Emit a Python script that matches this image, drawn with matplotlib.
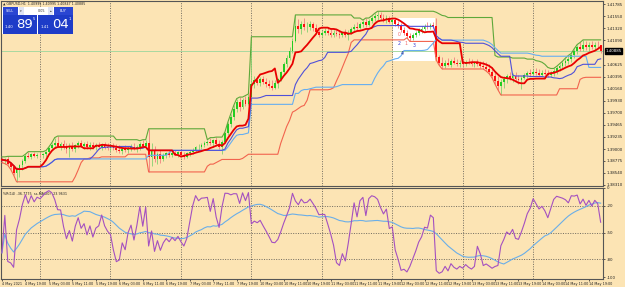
import matplotlib
matplotlib.use("Agg")
import matplotlib.pyplot as plt
import matplotlib.patches as mpatches
import matplotlib.transforms as mtransforms
import numpy as np
import pandas as pd

# GBPUSD H1, 4 May 2021 11:00 .. 14 May 2021 23:00
opens = [
    1.3880, 1.3877, 1.3881, 1.3872, 1.3865, 1.3854, 1.3863, 1.3869, 1.3877, 1.3886,
    1.3885, 1.3890, 1.3886, 1.3889, 1.3888, 1.3890, 1.3894, 1.3902, 1.3908, 1.3911,
    1.3906, 1.3909, 1.3903, 1.3900, 1.3904, 1.3900, 1.3907, 1.3911, 1.3906, 1.3909,
    1.3904, 1.3908, 1.3903, 1.3907, 1.3904, 1.3908, 1.3904, 1.3902, 1.3906, 1.3902,
    1.3899, 1.3897, 1.3900, 1.3898, 1.3902, 1.3904, 1.3900, 1.3904, 1.3909, 1.3906,
    1.3912, 1.3885, 1.3899, 1.3880, 1.3890, 1.3881, 1.3888, 1.3892, 1.3889, 1.3893,
    1.3890, 1.3894, 1.3889, 1.3885, 1.3892, 1.3894, 1.3899, 1.3903, 1.3904, 1.3908,
    1.3912, 1.3914, 1.3911, 1.3917, 1.3909, 1.3904, 1.3914, 1.3930, 1.3948, 1.3962,
    1.3978, 1.3990, 1.3981, 1.3994, 1.3987, 1.4000, 1.4025, 1.4032, 1.4028, 1.4034,
    1.4029, 1.4025, 1.4022, 1.4018, 1.4027, 1.4034, 1.4048, 1.4063, 1.4075, 1.4089,
    1.4108, 1.4137, 1.4131, 1.4140, 1.4134, 1.4135, 1.4140, 1.4133, 1.4126, 1.4120,
    1.4124, 1.4128, 1.4123, 1.4120, 1.4124, 1.4121, 1.4119, 1.4124, 1.4120, 1.4124,
    1.4131, 1.4135, 1.4133, 1.4140, 1.4144, 1.4139, 1.4147, 1.4152, 1.4156, 1.4158,
    1.4153, 1.4149, 1.4152, 1.4145, 1.4148, 1.4140, 1.4137, 1.4129, 1.4124, 1.4117,
    1.4114, 1.4119, 1.4124, 1.4129, 1.4131, 1.4135, 1.4134, 1.4139, 1.4137, 1.4077,
    1.4065, 1.4060, 1.4066, 1.4061, 1.4069, 1.4065, 1.4063, 1.4066, 1.4064, 1.4068,
    1.4065, 1.4063, 1.4066, 1.4063, 1.4060, 1.4057, 1.4054, 1.4049, 1.4041, 1.4031,
    1.4022, 1.4029, 1.4034, 1.4040, 1.4037, 1.4041, 1.4034, 1.4032, 1.4037, 1.4042,
    1.4046, 1.4045, 1.4048, 1.4046, 1.4043, 1.4047, 1.4045, 1.4042, 1.4046, 1.4050,
    1.4055, 1.4059, 1.4065, 1.4070, 1.4073, 1.4080, 1.4088, 1.4096, 1.4093, 1.4101,
    1.4096, 1.4100, 1.4096, 1.4101, 1.40995,
]
highs = [
    1.3885, 1.3883, 1.3886, 1.3876, 1.3869, 1.3866, 1.3872, 1.3880, 1.3890, 1.3895,
    1.3893, 1.3895, 1.3893, 1.3895, 1.3893, 1.3897, 1.3904, 1.3912, 1.3922, 1.3925,
    1.3914, 1.3917, 1.3912, 1.3911, 1.3914, 1.3909, 1.3916, 1.3918, 1.3914, 1.3916,
    1.3913, 1.3914, 1.3911, 1.3914, 1.3912, 1.3913, 1.3911, 1.3909, 1.3912, 1.3909,
    1.3907, 1.3904, 1.3907, 1.3906, 1.3909, 1.3911, 1.3908, 1.3914, 1.3918, 1.3917,
    1.3939, 1.3911, 1.3906, 1.3895, 1.3898, 1.3893, 1.3895, 1.3898, 1.3897, 1.3899,
    1.3897, 1.3900, 1.3895, 1.3894, 1.3898, 1.3902, 1.3906, 1.3909, 1.3912, 1.3916,
    1.3918, 1.3922, 1.3920, 1.3923, 1.3917, 1.3918, 1.3933, 1.3952, 1.3968, 1.3984,
    1.3997, 1.4000, 1.3999, 1.4003, 1.4006, 1.4116, 1.4040, 1.4041, 1.4038, 1.4041,
    1.4037, 1.4033, 1.4032, 1.4032, 1.4037, 1.4051, 1.4067, 1.4080, 1.4096, 1.4114,
    1.4158, 1.4150, 1.4147, 1.4152, 1.4145, 1.4147, 1.4145, 1.4140, 1.4134, 1.4129,
    1.4133, 1.4134, 1.4130, 1.4129, 1.4131, 1.4129, 1.4128, 1.4131, 1.4129, 1.4134,
    1.4140, 1.4144, 1.4145, 1.4148, 1.4152, 1.4150, 1.4156, 1.4161, 1.4165, 1.4163,
    1.4160, 1.4157, 1.4156, 1.4153, 1.4152, 1.4147, 1.4142, 1.4135, 1.4129, 1.4124,
    1.4123, 1.4128, 1.4133, 1.4137, 1.4140, 1.4144, 1.4143, 1.4145, 1.4153, 1.4080,
    1.4077, 1.4071, 1.4075, 1.4073, 1.4077, 1.4073, 1.4071, 1.4073, 1.4071, 1.4075,
    1.4073, 1.4070, 1.4073, 1.4070, 1.4069, 1.4067, 1.4063, 1.4057, 1.4051, 1.4041,
    1.4035, 1.4040, 1.4045, 1.4049, 1.4046, 1.4048, 1.4043, 1.4041, 1.4046, 1.4051,
    1.4054, 1.4054, 1.4055, 1.4054, 1.4052, 1.4054, 1.4052, 1.4051, 1.4055, 1.4059,
    1.4064, 1.4069, 1.4075, 1.4080, 1.4084, 1.4093, 1.4101, 1.4105, 1.4110, 1.4107,
    1.4105, 1.4107, 1.4105, 1.4108, 1.40995,
]
lows = [
    1.3874, 1.3872, 1.3869, 1.3861, 1.3850, 1.3837, 1.3847, 1.3860, 1.3874, 1.3882,
    1.3881, 1.3884, 1.3883, 1.3885, 1.3883, 1.3885, 1.3890, 1.3898, 1.3904, 1.3903,
    1.3899, 1.3900, 1.3892, 1.3885, 1.3897, 1.3895, 1.3902, 1.3903, 1.3900, 1.3901,
    1.3899, 1.3900, 1.3898, 1.3900, 1.3899, 1.3901, 1.3898, 1.3897, 1.3899, 1.3895,
    1.3892, 1.3890, 1.3894, 1.3893, 1.3897, 1.3898, 1.3895, 1.3899, 1.3903, 1.3901,
    1.3856, 1.3867, 1.3876, 1.3871, 1.3874, 1.3877, 1.3883, 1.3885, 1.3884, 1.3888,
    1.3885, 1.3886, 1.3880, 1.3882, 1.3886, 1.3890, 1.3894, 1.3898, 1.3900, 1.3904,
    1.3907, 1.3908, 1.3904, 1.3906, 1.3900, 1.3890, 1.3911, 1.3927, 1.3943, 1.3955,
    1.3971, 1.3974, 1.3978, 1.3982, 1.3984, 1.3994, 1.4018, 1.4024, 1.4022, 1.4025,
    1.4020, 1.4018, 1.4014, 1.4015, 1.4018, 1.4031, 1.4043, 1.4057, 1.4071, 1.4084,
    1.4105, 1.4124, 1.4121, 1.4129, 1.4126, 1.4129, 1.4128, 1.4123, 1.4116, 1.4115,
    1.4119, 1.4120, 1.4116, 1.4115, 1.4117, 1.4114, 1.4115, 1.4116, 1.4110, 1.4121,
    1.4126, 1.4129, 1.4130, 1.4134, 1.4135, 1.4137, 1.4142, 1.4147, 1.4149, 1.4148,
    1.4145, 1.4143, 1.4142, 1.4139, 1.4137, 1.4133, 1.4126, 1.4120, 1.4114, 1.4107,
    1.4110, 1.4115, 1.4120, 1.4124, 1.4128, 1.4130, 1.4131, 1.4133, 1.4071, 1.4061,
    1.4054, 1.4055, 1.4059, 1.4057, 1.4063, 1.4059, 1.4057, 1.4060, 1.4059, 1.4063,
    1.4059, 1.4057, 1.4060, 1.4056, 1.4054, 1.4050, 1.4045, 1.4037, 1.4025, 1.4014,
    1.4004, 1.4018, 1.4027, 1.4032, 1.4029, 1.4031, 1.4025, 1.4016, 1.4034, 1.4037,
    1.4040, 1.4041, 1.4042, 1.4041, 1.4040, 1.4041, 1.4038, 1.4038, 1.4041, 1.4045,
    1.4050, 1.4054, 1.4060, 1.4064, 1.4068, 1.4075, 1.4083, 1.4089, 1.4089, 1.4091,
    1.4089, 1.4093, 1.4091, 1.4094, 1.40847,
]
closes = [
    1.3877, 1.3881, 1.3872, 1.3865, 1.3854, 1.3863, 1.3869, 1.3877, 1.3886, 1.3885,
    1.3890, 1.3886, 1.3889, 1.3888, 1.3890, 1.3894, 1.3902, 1.3908, 1.3911, 1.3906,
    1.3909, 1.3903, 1.3900, 1.3904, 1.3900, 1.3907, 1.3911, 1.3906, 1.3909, 1.3904,
    1.3908, 1.3903, 1.3907, 1.3904, 1.3908, 1.3904, 1.3902, 1.3906, 1.3902, 1.3899,
    1.3897, 1.3900, 1.3898, 1.3902, 1.3904, 1.3900, 1.3904, 1.3909, 1.3906, 1.3912,
    1.3885, 1.3899, 1.3880, 1.3890, 1.3881, 1.3888, 1.3892, 1.3889, 1.3893, 1.3890,
    1.3894, 1.3889, 1.3885, 1.3892, 1.3894, 1.3899, 1.3903, 1.3904, 1.3908, 1.3912,
    1.3914, 1.3911, 1.3917, 1.3909, 1.3904, 1.3914, 1.3930, 1.3948, 1.3962, 1.3978,
    1.3990, 1.3981, 1.3994, 1.3987, 1.4000, 1.4025, 1.4032, 1.4028, 1.4034, 1.4029,
    1.4025, 1.4022, 1.4018, 1.4027, 1.4034, 1.4048, 1.4063, 1.4075, 1.4089, 1.4108,
    1.4137, 1.4131, 1.4140, 1.4134, 1.4135, 1.4140, 1.4133, 1.4126, 1.4120, 1.4124,
    1.4128, 1.4123, 1.4120, 1.4124, 1.4121, 1.4119, 1.4124, 1.4120, 1.4124, 1.4131,
    1.4135, 1.4133, 1.4140, 1.4144, 1.4139, 1.4147, 1.4152, 1.4156, 1.4158, 1.4153,
    1.4149, 1.4152, 1.4145, 1.4148, 1.4140, 1.4137, 1.4129, 1.4124, 1.4117, 1.4114,
    1.4119, 1.4124, 1.4129, 1.4131, 1.4135, 1.4134, 1.4139, 1.4137, 1.4077, 1.4065,
    1.4060, 1.4066, 1.4061, 1.4069, 1.4065, 1.4063, 1.4066, 1.4064, 1.4068, 1.4065,
    1.4063, 1.4066, 1.4063, 1.4060, 1.4057, 1.4054, 1.4049, 1.4041, 1.4031, 1.4022,
    1.4029, 1.4034, 1.4040, 1.4037, 1.4041, 1.4034, 1.4032, 1.4037, 1.4042, 1.4046,
    1.4045, 1.4048, 1.4046, 1.4043, 1.4047, 1.4045, 1.4042, 1.4046, 1.4050, 1.4055,
    1.4059, 1.4065, 1.4070, 1.4073, 1.4080, 1.4088, 1.4096, 1.4093, 1.4101, 1.4096,
    1.4100, 1.4096, 1.4101, 1.40995, 1.40885,
]

time_labels = [
    "4 May 2021", "4 May 19:00", "5 May 03:00", "5 May 11:00", "5 May 19:00",
    "6 May 03:00", "6 May 11:00", "6 May 19:00", "7 May 03:00", "7 May 11:00",
    "7 May 19:00", "10 May 03:00", "10 May 11:00", "10 May 19:00", "11 May 03:00",
    "11 May 11:00", "11 May 19:00", "12 May 03:00", "12 May 11:00", "12 May 19:00",
    "13 May 03:00", "13 May 11:00", "13 May 19:00", "14 May 03:00", "14 May 11:00",
    "14 May 19:00",
]
day_starts = [13, 37, 61, 85, 109, 133, 157, 181]   # bar index of each midnight
price_ticks = [1.41785, 1.41550, 1.41320, 1.41090, 1.40625, 1.40395, 1.40160,
               1.39930, 1.39700, 1.39465, 1.39235, 1.39000, 1.38775, 1.38540, 1.38310]
wpr_levels = [-20, -50, -80]
wpr_ticks = [0, -20, -50, -80, -100]
bid = 1.40885
header = "\u25b2 GBPUSD,H1  1.40995 1.40995 1.40847 1.40885"
sub_label = "%R(14) -36.7775  ss-MA(20) -23.9631"

# wave labels inside the white note box: (bar, price, text, colour)
box_bars = (133.1, 147.7)
box_prices = (1.40700, 1.41523)
wave_labels = [(135.5, 1.4121, "0", "#f06a6a"), (135.5, 1.4103, "2", "#3a3ad0"),
               (137.5, 1.4103, "1", "#f06a6a"), (140.5, 1.4100, "3", "#3a3ad0"),
               (136.5, 1.4083, "4", "#20208a")]

bg = "#fce4b4"
small = 2.9

df = pd.DataFrame({"o": opens, "h": highs, "l": lows, "c": closes})
n = len(df)
x = np.arange(n)


def mid(p):
    return (df.h.rolling(p, min_periods=1).max() + df.l.rolling(p, min_periods=1).min()) / 2


upper = df.h.rolling(20, min_periods=1).max()
lower = df.l.rolling(20, min_periods=1).min()
tenkan = mid(9)
kijun = mid(26)
spanb = mid(52)
hh = df.h.rolling(14, min_periods=1).max()
ll = df.l.rolling(14, min_periods=1).min()
wpr = (hh - df.c) / (hh - ll) * -100
wpr_ma = wpr.rolling(24, min_periods=1).mean()

fig = plt.figure(figsize=(6.25, 2.87), dpi=100)
fig.patch.set_facecolor(bg)
ax = fig.add_axes([0.0016, 0.352, 0.9632, 0.6446])
ax2 = fig.add_axes([0.0016, 0.028, 0.9632, 0.317])

for a in (ax, ax2):
    a.set_facecolor(bg)
    a.set_xlim(-0.3, 204.8)
    for s in a.spines.values():
        s.set_color("#555555")
        s.set_linewidth(0.8)
    for d in day_starts:
        a.axvline(d, color="#444444", lw=0.5, ls=(0, (1.5, 2)), zorder=1)

# main panel
ax.set_ylim(1.38290, 1.41848)
ax.add_patch(mpatches.Rectangle((box_bars[0], box_prices[0]), box_bars[1] - box_bars[0],
                                box_prices[1] - box_prices[0], facecolor="white",
                                edgecolor="none", zorder=1.5))
ax.axhline(bid, color="#a8d8a0", lw=0.7, zorder=2)

o = df.o.values; h = df.h.values; l = df.l.values; c = df.c.values
up = c >= o
ax.vlines(x[up], l[up], h[up], color="#86d070", lw=0.6, zorder=3)
ax.vlines(x[~up], l[~up], h[~up], color="#f08080", lw=0.6, zorder=3)
body = np.maximum(np.abs(c - o), 0.00004)
ax.bar(x[up], body[up], bottom=o[up], width=0.6, color="#22cc22", lw=0, zorder=4)
ax.bar(x[~up], body[~up], bottom=c[~up], width=0.6, color="#ff1010", lw=0, zorder=4)

ax.plot(x, upper, color="#5ea83a", lw=0.8, zorder=5)
ax.plot(x, lower, color="#f2644e", lw=0.8, zorder=5)
ax.plot(x, spanb, color="#66aef0", lw=0.8, zorder=5)
ax.plot(x, kijun, color="#5050d8", lw=0.8, zorder=5)
ax.plot(x, tenkan, color="#e80000", lw=1.3, zorder=6)

for bx, by, t, col in wave_labels:
    ax.text(bx, by, t, color=col, fontsize=3.4, ha="center", va="center", zorder=7)

ax.yaxis.tick_right()
ax.set_yticks(price_ticks)
ax.set_yticklabels([f"{v:.5f}" for v in price_ticks])
ax.tick_params(axis="y", labelsize=small, length=1.5, pad=1, colors="#222222", width=0.5)
ax.set_xticks([])

tr = mtransforms.blended_transform_factory(ax.transAxes, ax.transData)
ax.text(1.004, bid, f"{bid:.5f}", transform=tr, fontsize=small, color="white",
        va="center", ha="left",
        bbox=dict(boxstyle="square,pad=0.2", fc="black", ec="black"), zorder=10)

# %R sub window
ax2.set_ylim(-102, 0)
for lv in wpr_levels:
    ax2.axhline(lv, color="#444444", lw=0.5, ls=(0, (1.5, 2)), zorder=1)
ax2.plot(x, wpr_ma, color="#6aaee8", lw=0.8, zorder=3)
ax2.plot(x, wpr, color="#a450c0", lw=0.8, zorder=4)
ax2.yaxis.tick_right()
ax2.set_yticks(wpr_ticks)
ax2.set_yticklabels([str(v) for v in wpr_ticks])
ax2.tick_params(axis="y", labelsize=small, length=1.5, pad=1, colors="#222222", width=0.5)
ax2.set_xticks(range(0, n, 8))
ax2.set_xticklabels(time_labels, ha="left")
ax2.tick_params(axis="x", labelsize=2.4, length=1.5, pad=0.8, colors="#222222", width=0.5)
ax2.text(0.004, 0.96, sub_label, transform=ax2.transAxes, fontsize=2.4,
         color="#222222", va="top")

# header and one-click trading panel (figure pixel coordinates)
W, H = 625.0, 287.0


def fx(px):
    return px / W


def fy(py):
    return 1 - py / H


fig.text(fx(3), fy(3.3), header, fontsize=2.3, color="#222222", va="center")


def box(x0, y0, x1, y1, color):
    fig.patches.append(mpatches.Rectangle((fx(x0), fy(y1)), fx(x1 - x0), (y1 - y0) / H,
                                          transform=fig.transFigure, facecolor=color,
                                          edgecolor="none", zorder=20))


box(2, 7, 73, 34, "#ffffff")
box(2.5, 7.5, 18, 15, "#2a46d2")
box(18.5, 7.5, 24, 15, "#dfe4f4")
box(24, 7.5, 48, 15, "#ffffff")
box(48, 7.5, 53.5, 15, "#dfe4f4")
box(54, 7.5, 72.5, 15, "#2a46d2")
box(2.5, 15.5, 37.2, 33.5, "#1e3cc8")
box(37.8, 15.5, 72.5, 33.5, "#1e3cc8")
fig.text(fx(10), fy(11.3), "SELL", fontsize=2.4, color="white", ha="center", va="center", zorder=21)
fig.text(fx(63), fy(11.3), "BUY", fontsize=2.4, color="white", ha="center", va="center", zorder=21)
fig.text(fx(45), fy(11.3), "0.05", fontsize=2.4, color="#333333", ha="right", va="center", zorder=21)
fig.text(fx(21), fy(11.3), "\u25be", fontsize=2.4, color="#333333", ha="center", va="center", zorder=21)
fig.text(fx(51), fy(11.3), "\u25b4", fontsize=2.4, color="#333333", ha="center", va="center", zorder=21)
for x0, pre, big, sup in [(5, "1.40", "89", "5"), (41, "1.41", "04", "1")]:
    fig.text(fx(x0), fy(27), pre, fontsize=2.8, color="white", va="center", zorder=21)
    fig.text(fx(x0 + 11.5), fy(25), big, fontsize=9.5, color="white", va="center", zorder=21)
    fig.text(fx(x0 + 28), fy(19.5), sup, fontsize=2.8, color="white", va="center", zorder=21)

fig.savefig("out.png", dpi=100, facecolor=bg)
